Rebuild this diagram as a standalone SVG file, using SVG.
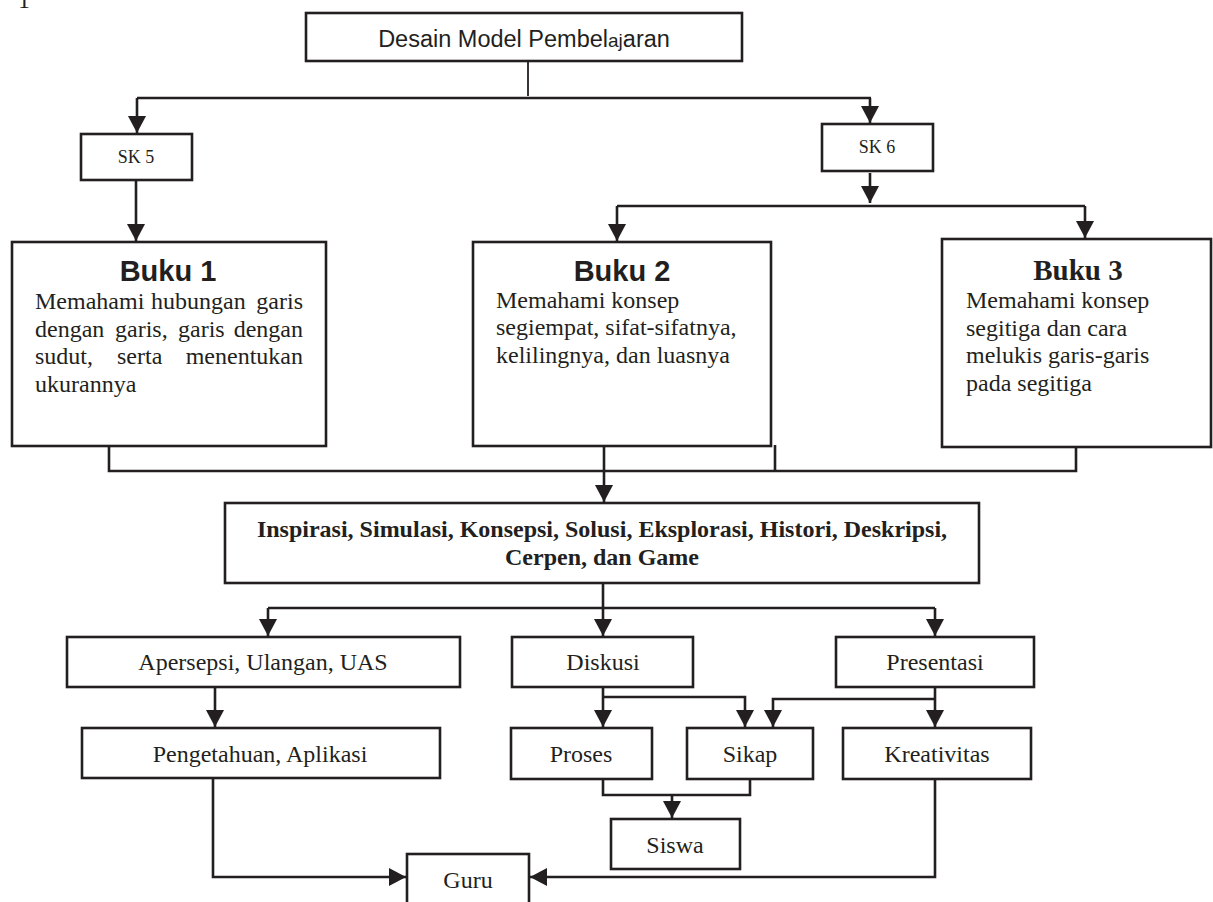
<svg xmlns="http://www.w3.org/2000/svg" width="1213" height="902" viewBox="0 0 1213 902">
<style>
.box{fill:#fff;stroke:#231f20;stroke-width:2.6}
.ln{fill:none;stroke:#231f20;stroke-width:2.6}
.thin{fill:none;stroke:#231f20;stroke-width:1.8}
.arr{fill:none;stroke:#231f20;stroke-width:2.6;marker-end:url(#ah)}
.t{font-family:"Liberation Serif","Times New Roman",serif;font-size:24px;fill:#231f20}
.tc{font-family:"Liberation Serif","Times New Roman",serif;font-size:24px;fill:#231f20;text-anchor:middle}
.tb{font-family:"Liberation Serif","Times New Roman",serif;font-size:24px;font-weight:bold;fill:#231f20;text-anchor:middle}
.sk{font-family:"Liberation Serif","Times New Roman",serif;font-size:18px;fill:#231f20;text-anchor:middle}
.hs{font-family:"Liberation Sans",Arial,sans-serif;font-size:29px;font-weight:bold;fill:#231f20;text-anchor:middle}
</style>
<defs>
<marker id="ah" markerUnits="userSpaceOnUse" markerWidth="17" markerHeight="18" refX="17" refY="9" orient="auto">
<path d="M0,0 L17,9 L0,18 z" fill="#231f20"/>
</marker>
</defs>
<rect width="1213" height="902" fill="#fff"/>
<text x="18" y="8" font-family="Liberation Serif, serif" font-size="24" fill="#231f20">1</text>

<g id="connectors">
<path class="thin" d="M528,61 V96"/>
<path class="ln" d="M137,98 H871"/>
<path class="arr" d="M137,98 V133"/>
<path class="arr" d="M870,98 V123"/>
<path class="arr" d="M136,180 V241"/>
<path class="arr" d="M870,173 V203"/>
<path class="ln" d="M617,206 H1085"/>
<path class="arr" d="M617,206 V241"/>
<path class="arr" d="M1085,206 V238"/>
<path class="ln" d="M109,446 V471 H1076 V447"/>
<path class="ln" d="M775,445 V471"/>
<path class="arr" d="M604,446 V502"/>
<path class="ln" d="M603,583 V608"/>
<path class="ln" d="M268,608 H935"/>
<path class="arr" d="M268,608 V636"/>
<path class="arr" d="M603,608 V636"/>
<path class="arr" d="M935,608 V636"/>
<path class="arr" d="M215,687 V727"/>
<path class="arr" d="M603,687 V727"/>
<path class="arr" d="M603,697 H745 V727"/>
<path class="arr" d="M935,687 V727"/>
<path class="arr" d="M935,699 H773 V727"/>
<path class="ln" d="M603,779 V795 H750 V779"/>
<path class="arr" d="M672,795 V818"/>
<path class="arr" d="M213,778 V877 H406"/>
<path class="arr" d="M935,779 V877 H530"/>
</g>

<g id="desain">
<rect class="box" x="306" y="13" width="436" height="48"/>
<text x="524" y="47" font-family="Liberation Sans, Arial, sans-serif" font-size="23.5" fill="#231f20" text-anchor="middle">Desain Model Pembel<tspan font-size="19">aj</tspan>aran</text>
</g>

<g id="sk5">
<rect class="box" x="81" y="134" width="111" height="46"/>
<text class="sk" x="136" y="163">SK 5</text>
</g>

<g id="sk6">
<rect class="box" x="822" y="124" width="111" height="47"/>
<text class="sk" x="877" y="153">SK 6</text>
</g>

<g id="buku1">
<rect class="box" x="12" y="242" width="314" height="204"/>
<text class="hs" x="168" y="281">Buku 1</text>
<text class="t" x="35" y="309">Memahami</text>
<text class="t" x="151" y="309">hubungan</text>
<text class="t" x="303" y="309" text-anchor="end">garis</text>
<text class="t" x="35" y="337">dengan</text>
<text class="t" x="115" y="337">garis,</text>
<text class="t" x="178" y="337">garis</text>
<text class="t" x="303" y="337" text-anchor="end">dengan</text>
<text class="t" x="35" y="364">sudut,</text>
<text class="t" x="117" y="364">serta</text>
<text class="t" x="303" y="364" text-anchor="end">menentukan</text>
<text class="t" x="35" y="392">ukurannya</text>
</g>

<g id="buku2">
<rect class="box" x="473" y="242" width="298" height="204"/>
<text class="hs" x="622" y="281">Buku 2</text>
<text class="t" x="496" y="308">Memahami konsep</text>
<text class="t" x="496" y="335">segiempat, sifat-sifatnya,</text>
<text class="t" x="496" y="363">kelilingnya, dan luasnya</text>
</g>

<g id="buku3">
<rect class="box" x="942" y="239" width="269" height="208"/>
<text x="1078" y="280" font-family="Liberation Serif, Times New Roman, serif" font-size="29" font-weight="bold" fill="#231f20" text-anchor="middle">Buku 3</text>
<text class="t" x="966" y="308">Memahami konsep</text>
<text class="t" x="966" y="336">segitiga dan cara</text>
<text class="t" x="966" y="363">melukis garis-garis</text>
<text class="t" x="966" y="391">pada segitiga</text>
</g>

<g id="inspirasi">
<rect class="box" x="225" y="503" width="754" height="80"/>
<text class="tb" x="602" y="537">Inspirasi, Simulasi, Konsepsi, Solusi, Eksplorasi, Histori, Deskripsi,</text>
<text class="tb" x="602" y="565">Cerpen, dan Game</text>
</g>

<g id="apersepsi">
<rect class="box" x="67" y="637" width="393" height="50"/>
<text class="tc" x="263" y="670">Apersepsi, Ulangan, UAS</text>
</g>

<g id="diskusi">
<rect class="box" x="512" y="637" width="181" height="50"/>
<text class="tc" x="603" y="670">Diskusi</text>
</g>

<g id="presentasi">
<rect class="box" x="836" y="637" width="198" height="50"/>
<text class="tc" x="935" y="670">Presentasi</text>
</g>

<g id="pengetahuan">
<rect class="box" x="82" y="728" width="358" height="50"/>
<text class="tc" x="260" y="762">Pengetahuan, Aplikasi</text>
</g>

<g id="proses">
<rect class="box" x="511" y="728" width="141" height="51"/>
<text class="tc" x="581" y="762">Proses</text>
</g>

<g id="sikap">
<rect class="box" x="687" y="728" width="126" height="51"/>
<text class="tc" x="750" y="762">Sikap</text>
</g>

<g id="kreativitas">
<rect class="box" x="843" y="728" width="188" height="51"/>
<text class="tc" x="937" y="762">Kreativitas</text>
</g>

<g id="siswa">
<rect class="box" x="611" y="819" width="129" height="50"/>
<text class="tc" x="675" y="853">Siswa</text>
</g>

<g id="guru">
<rect class="box" x="407" y="854" width="122" height="60"/>
<text class="tc" x="468" y="888">Guru</text>
</g>
</svg>
